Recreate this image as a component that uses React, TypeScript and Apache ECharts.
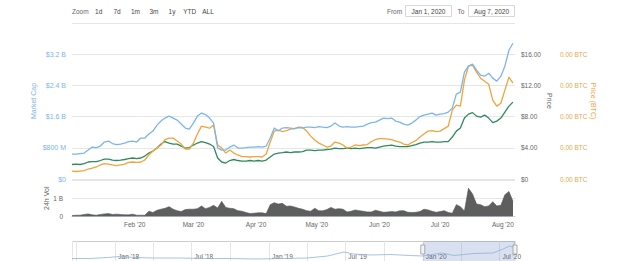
import React, { useEffect, useRef } from 'react';
import * as echarts from 'echarts';

// Chainlink-style overview, 1 Jan 2020 – 7 Aug 2020, one sample every two days
const MONTHS = ['Jan', 'Feb', 'Mar', 'Apr', 'May', 'Jun', 'Jul', 'Aug', 'Sep', 'Oct', 'Nov', 'Dec'];
const RANGE_START = new Date(2020, 0, 1).getTime();
const RANGE_END = new Date(2020, 7, 7).getTime();
const NAV_START = new Date(2017, 8, 20).getTime();
const STEP_DAYS = 2;
const DAY_MS = 86400000;

// market cap, billions USD
const marketCap = [
  0.64, 0.64, 0.653, 0.666, 0.742, 0.819, 0.806, 0.845, 0.947, 0.973,
  0.909, 0.883, 0.896, 0.922, 0.96, 0.973, 0.947, 1.05, 1.05, 1.152,
  1.229, 1.382, 1.485, 1.562, 1.613, 1.562, 1.51, 1.408, 1.306, 1.28,
  1.434, 1.613, 1.69, 1.651, 1.562, 1.434, 0.794, 0.742, 0.742, 0.819,
  0.87, 0.794, 0.794, 0.806, 0.819, 0.819, 0.832, 0.819, 0.845, 1.05,
  1.306, 1.229, 1.306, 1.318, 1.306, 1.293, 1.318, 1.306, 1.331, 1.331,
  1.318, 1.344, 1.331, 1.318, 1.357, 1.434, 1.357, 1.331, 1.344, 1.331,
  1.331, 1.344, 1.357, 1.408, 1.446, 1.459, 1.51, 1.562, 1.549, 1.562,
  1.485, 1.459, 1.408, 1.382, 1.434, 1.51, 1.6, 1.638, 1.664, 1.69,
  1.638, 1.664, 1.677, 1.715, 1.818, 2.176, 2.227, 2.739, 2.893, 2.944,
  2.79, 2.662, 2.637, 2.714, 2.586, 2.509, 2.637, 2.893, 3.302, 3.482,
];

// price, USD
const priceUsd = [
  1.86, 1.92, 1.86, 1.98, 2.18, 2.24, 2.24, 2.37, 2.56, 2.56,
  2.43, 2.37, 2.43, 2.5, 2.62, 2.69, 2.62, 2.69, 2.94, 3.33,
  3.58, 3.97, 4.48, 4.8, 4.61, 4.48, 4.48, 4.22, 3.97, 4.03,
  4.35, 4.61, 4.8, 4.67, 4.48, 4.16, 2.69, 2.18, 2.05, 2.37,
  2.5, 2.37, 2.3, 2.3, 2.37, 2.3, 2.37, 2.3, 2.43, 2.82,
  3.2, 3.33, 3.39, 3.46, 3.39, 3.46, 3.46, 3.52, 3.71, 3.71,
  3.65, 3.71, 3.71, 3.78, 3.84, 3.97, 3.9, 3.9, 3.97, 3.9,
  3.97, 3.9, 3.97, 4.03, 4.03, 3.97, 4.1, 4.22, 4.29, 4.35,
  4.22, 4.16, 4.16, 4.16, 4.29, 4.42, 4.61, 4.74, 4.74, 4.8,
  4.74, 4.74, 4.8, 4.8, 5.38, 6.14, 6.53, 7.81, 8.32, 8.51,
  8.06, 7.94, 8.19, 7.81, 7.23, 7.42, 7.81, 8.58, 9.34, 9.86,
];

// price, BTC
const priceBtc = [
  0.000251, 0.000248, 0.000251, 0.000254, 0.000264, 0.00027, 0.000277, 0.00029, 0.000299, 0.000296,
  0.00029, 0.000286, 0.00029, 0.000296, 0.000306, 0.000309, 0.000306, 0.000309, 0.000322, 0.000354,
  0.000379, 0.000398, 0.000418, 0.000453, 0.000462, 0.000462, 0.000443, 0.000424, 0.000392, 0.000392,
  0.00043, 0.000488, 0.000539, 0.000533, 0.000526, 0.000546, 0.000418, 0.000398, 0.000366, 0.000386,
  0.000366, 0.000354, 0.000344, 0.000344, 0.000341, 0.000344, 0.000344, 0.000341, 0.00036, 0.000437,
  0.000507, 0.000514, 0.000504, 0.00051, 0.00052, 0.000523, 0.000533, 0.00053, 0.000507, 0.000475,
  0.00045, 0.00043, 0.000418, 0.000405, 0.000411, 0.000437, 0.00043, 0.000418, 0.000398, 0.000405,
  0.000418, 0.000414, 0.000418, 0.000421, 0.00044, 0.000453, 0.000459, 0.000459, 0.000456, 0.000453,
  0.000443, 0.000437, 0.000424, 0.000418, 0.000434, 0.000446, 0.000469, 0.000488, 0.000507, 0.00051,
  0.000504, 0.000507, 0.000523, 0.000539, 0.000642, 0.000674, 0.000667, 0.000834, 0.000923, 0.00093,
  0.000885, 0.000846, 0.000827, 0.000808, 0.000706, 0.000667, 0.000686, 0.00077, 0.000853, 0.000814,
];

// 24h volume, billions USD
const volume24h = [
  0.05, 0.07, 0.07, 0.11, 0.14, 0.09, 0.07, 0.11, 0.14, 0.16,
  0.11, 0.13, 0.11, 0.09, 0.09, 0.13, 0.07, 0.07, 0.07, 0.29,
  0.22, 0.34, 0.4, 0.45, 0.54, 0.4, 0.32, 0.27, 0.38, 0.4,
  0.4, 0.43, 0.58, 0.43, 0.5, 0.61, 0.47, 0.83, 0.5, 0.45,
  0.43, 0.32, 0.29, 0.22, 0.16, 0.18, 0.2, 0.2, 0.16, 0.65,
  0.76, 0.68, 0.72, 0.56, 0.58, 0.52, 0.45, 0.4, 0.32, 0.29,
  0.45, 0.32, 0.31, 0.38, 0.5, 0.4, 0.43, 0.4, 0.25, 0.29,
  0.36, 0.32, 0.29, 0.25, 0.25, 0.34, 0.29, 0.23, 0.25, 0.27,
  0.25, 0.31, 0.32, 0.23, 0.22, 0.23, 0.27, 0.4, 0.36, 0.29,
  0.23, 0.27, 0.32, 0.22, 0.18, 0.65, 0.54, 0.3, 1.55, 1.23,
  0.68, 0.65, 0.54, 0.58, 0.81, 0.58, 0.61, 1.19, 1.37, 0.83,
];

// navigator overview (full history)
const navDates = [
  '2017-09-20', '2017-11-01', '2017-12-15', '2018-01-10', '2018-02-15', '2018-04-01',
  '2018-06-01', '2018-08-01', '2018-10-01', '2018-12-01', '2019-02-01', '2019-04-01',
  '2019-05-20', '2019-06-28', '2019-07-20', '2019-09-01', '2019-10-15', '2019-12-01',
  '2020-01-01', '2020-02-15', '2020-03-15', '2020-05-01', '2020-06-15', '2020-07-10',
  '2020-07-25', '2020-08-01', '2020-08-07',
];
const navValues = [
  0.5, 0.5, 0.7, 0.9, 0.7, 0.6,
  0.6, 0.5, 0.5, 0.4, 0.5, 0.6,
  1.0, 1.8, 1.4, 1.2, 1.3, 1.1,
  1.0, 1.6, 1.1, 1.5, 1.6, 2.4,
  3.0, 2.8, 3.8,
];

const rangeButtons = ['1d', '7d', '1m', '3m', '1y', 'YTD', 'ALL'];
const rangeButtonX = [98.7, 117, 135.5, 154, 172, 189.7, 208];
const fromLabel = 'Jan 1, 2020';
const toLabel = 'Aug 7, 2020';

const FONT = '"Liberation Sans", Arial, sans-serif';
const BLUE = '#7cb5ec';
const GREEN = '#2f8a5c';
const ORANGE = '#f2a33a';
const GRID_LINE = '#e6e6e6';

function dayTime(i: number) {
  return new Date(2020, 0, 1 + i * STEP_DAYS).getTime();
}

function parseDay(s: string) {
  const [y, m, d] = s.split('-').map(Number);
  return new Date(y, m - 1, d).getTime();
}

function monthLabel(value: number, skipBefore: number, halfYearOnly = false) {
  const d = new Date(value);
  if (d.getDate() !== 1 || value <= skipBefore) return '';
  if (halfYearOnly && d.getMonth() !== 0 && d.getMonth() !== 6) return '';
  return `${MONTHS[d.getMonth()]} '${String(d.getFullYear()).slice(2)}`;
}

function fmtCap(v: number) {
  if (v === 0) return '$0';
  if (v < 1) return `$${Math.round(v * 1000)} M`;
  return `$${v.toFixed(1)} B`;
}

export default function App() {
  const ref = useRef<HTMLDivElement>(null);

  useEffect(() => {
    if (!ref.current) return;
    const chart = echarts.init(ref.current, undefined, { renderer: 'svg' });

    const pair = (arr: number[]) => arr.map((v, i) => [dayTime(i), v]);
    const navData = navValues.map((v, i) => [parseDay(navDates[i]), v]);

    const txt = (text: string, x: number, y: number, fill: string, align = 'center') => ({
      type: 'text',
      x,
      y,
      style: {
        text,
        fill,
        font: `6.5px ${FONT}`,
        align,
        verticalAlign: 'middle',
      },
      silent: true,
    });

    const toolbar: any[] = [
      txt('Zoom', 72, 11.5, '#666', 'left'),
      ...rangeButtons.map((b, i) => txt(b, rangeButtonX[i], 11.5, '#444')),
      txt('From', 394.5, 11.5, '#666'),
      {
        type: 'rect',
        shape: { x: 405.5, y: 5.5, width: 46, height: 11 },
        style: { fill: '#fff', stroke: '#d8d8d8', lineWidth: 1 },
        silent: true,
      },
      txt(fromLabel, 428.5, 11.5, '#444'),
      txt('To', 461, 11.5, '#666'),
      {
        type: 'rect',
        shape: { x: 468.5, y: 5.5, width: 46, height: 11 },
        style: { fill: '#fff', stroke: '#d8d8d8', lineWidth: 1 },
        silent: true,
      },
      txt(toLabel, 491.5, 11.5, '#444'),
    ];

    const gridBase = { left: 72, right: 125, containLabel: false, outerBoundsMode: 'none' };

    const option: any = {
      animation: false,
      textStyle: { fontFamily: FONT },
      grid: [
        { ...gridBase, top: 23, height: 156 },
        { ...gridBase, top: 180, height: 36.5 },
        { ...gridBase, top: 241, height: 20 },
      ],
      xAxis: [
        {
          type: 'time',
          gridIndex: 0,
          min: RANGE_START,
          max: RANGE_END,
          axisLabel: { show: false },
          axisLine: { show: false },
          axisTick: { show: false },
          splitLine: { show: false },
        },
        {
          type: 'time',
          gridIndex: 1,
          min: RANGE_START,
          max: RANGE_END,
          splitNumber: 7,
          axisLine: { lineStyle: { color: '#ccd6eb' } },
          axisTick: { show: false },
          splitLine: { show: false },
          axisLabel: {
            color: '#666',
            fontSize: 6.5,
            margin: 4,
            hideOverlap: false,
            formatter: (v: number) => monthLabel(v, RANGE_START),
          },
        },
        {
          type: 'time',
          gridIndex: 2,
          min: NAV_START,
          max: RANGE_END,
          splitNumber: 6,
          minInterval: 170 * DAY_MS,
          axisLine: { show: false },
          axisTick: { show: false },
          splitLine: { show: true, lineStyle: { color: GRID_LINE, width: 1 } },
          axisLabel: {
            inside: true,
            align: 'left',
            padding: [0, 0, 0, 3],
            margin: 1.5,
            color: '#666',
            fontSize: 6.5,
            hideOverlap: false,
            formatter: (v: number) => monthLabel(v, NAV_START, true),
          },
        },
      ],
      yAxis: [
        {
          type: 'value',
          gridIndex: 0,
          position: 'left',
          min: 0,
          max: 4,
          interval: 0.8,
          name: 'Market Cap',
          nameLocation: 'middle',
          nameGap: 35,
          nameMoveOverlap: false,
          nameTextStyle: { color: BLUE, fontSize: 7 },
          axisLine: { show: false },
          axisTick: { show: false },
          axisLabel: { color: BLUE, fontSize: 7, margin: 6, showMaxLabel: false, formatter: fmtCap },
          splitLine: { lineStyle: { color: GRID_LINE } },
        },
        {
          type: 'value',
          gridIndex: 0,
          position: 'right',
          min: 0,
          max: 20,
          interval: 4,
          name: 'Price',
          nameLocation: 'middle',
          nameGap: 31,
          nameRotate: -90,
          nameMoveOverlap: false,
          nameTextStyle: { color: '#666', fontSize: 7 },
          axisLine: { show: false },
          axisTick: { show: false },
          axisLabel: {
            color: '#666',
            fontSize: 6.5,
            margin: 6,
            showMaxLabel: false,
            formatter: (v: number) => (v === 0 ? '$0' : `$${v.toFixed(2)}`),
          },
          splitLine: { show: false },
        },
        {
          type: 'value',
          gridIndex: 0,
          position: 'right',
          offset: 39,
          min: 0.0002,
          max: 0.0012,
          interval: 0.0002,
          name: 'Price (BTC)',
          nameLocation: 'middle',
          nameGap: 36,
          nameRotate: -90,
          nameMoveOverlap: false,
          nameTextStyle: { color: ORANGE, fontSize: 7 },
          axisLine: { show: false },
          axisTick: { show: false },
          axisLabel: {
            color: '#e6a84a',
            fontSize: 6.5,
            margin: 6,
            showMaxLabel: false,
            formatter: (v: number) => `${v.toFixed(2)} BTC`,
          },
          splitLine: { show: false },
        },
        {
          type: 'value',
          gridIndex: 1,
          min: 0,
          max: 2,
          interval: 1,
          name: '24h Vol',
          nameLocation: 'middle',
          nameGap: 22,
          nameMoveOverlap: false,
          nameTextStyle: { color: '#666', fontSize: 7 },
          axisLine: { show: false },
          axisTick: { show: false },
          axisLabel: {
            color: '#666',
            fontSize: 6.5,
            margin: 9,
            showMaxLabel: false,
            formatter: (v: number) => (v === 0 ? '0' : `${v} B`),
          },
          splitLine: { lineStyle: { color: GRID_LINE } },
        },
        {
          type: 'value',
          gridIndex: 2,
          min: 0,
          max: 4,
          interval: 4,
          axisLabel: { show: false },
          axisLine: { show: false },
          axisTick: { show: false },
          splitLine: { lineStyle: { color: '#cccccc' } },
        },
      ],
      series: [
        {
          name: 'Price',
          type: 'line',
          xAxisIndex: 0,
          yAxisIndex: 1,
          data: pair(priceUsd),
          showSymbol: false,
          lineStyle: { color: GREEN, width: 1.3 },
          itemStyle: { color: GREEN },
          z: 2,
        },
        {
          name: 'Price (BTC)',
          type: 'line',
          xAxisIndex: 0,
          yAxisIndex: 2,
          data: pair(priceBtc),
          showSymbol: false,
          lineStyle: { color: ORANGE, width: 1.3 },
          itemStyle: { color: ORANGE },
          z: 3,
        },
        {
          name: 'Market Cap',
          type: 'line',
          xAxisIndex: 0,
          yAxisIndex: 0,
          data: pair(marketCap),
          showSymbol: false,
          lineStyle: { color: BLUE, width: 1.3 },
          itemStyle: { color: BLUE },
          z: 4,
        },
        {
          name: '24h Vol',
          type: 'line',
          xAxisIndex: 1,
          yAxisIndex: 3,
          data: pair(volume24h),
          showSymbol: false,
          lineStyle: { color: '#555', width: 0.6 },
          itemStyle: { color: '#555' },
          areaStyle: { color: '#5e5e5e', opacity: 1 },
        },
        {
          name: 'Navigator',
          type: 'line',
          xAxisIndex: 2,
          yAxisIndex: 4,
          data: navData,
          showSymbol: false,
          lineStyle: { color: '#8fb4dc', width: 0.8 },
          itemStyle: { color: '#8fb4dc' },
          markArea: {
            silent: true,
            itemStyle: { color: 'rgba(102,133,194,0.25)' },
            data: [[{ xAxis: RANGE_START }, { xAxis: RANGE_END }]],
          },
        },
      ],
      graphic: { elements: toolbar },
    };

    chart.setOption(option);

    // navigator handles at the selected range edges
    const hx0 = chart.convertToPixel({ xAxisIndex: 2 }, RANGE_START) as number;
    const hx1 = chart.convertToPixel({ xAxisIndex: 2 }, RANGE_END) as number;
    const handle = (id: string, x: number) => ({
      id,
      type: 'rect',
      shape: { x: x - 2, y: 245, width: 4, height: 9 },
      style: { fill: '#f2f2f2', stroke: '#999', lineWidth: 0.8 },
      silent: true,
      z: 10,
    });
    chart.setOption({
      graphic: { elements: [...toolbar, handle('h0', hx0), handle('h1', hx1)] },
    });

    return () => chart.dispose();
  }, []);

  return (
    <div
      ref={ref}
      style={{ position: 'fixed', left: 0, top: 0, width: 640, height: 261, background: '#fff' }}
    />
  );
}
